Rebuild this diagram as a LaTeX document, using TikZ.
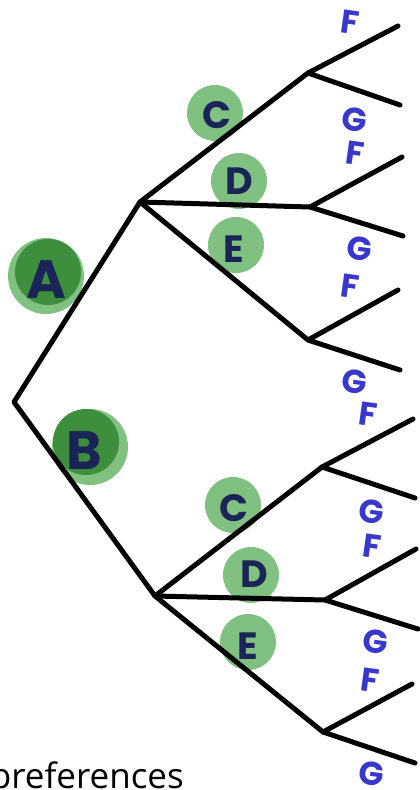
\documentclass[tikz,border=0pt]{standalone}
\usepackage{fontspec}
\setmainfont{Open Sans}
\newfontfamily\hand{Poppins}
\definecolor{branch}{HTML}{000000}
\definecolor{leafgreen}{HTML}{80C080}
\definecolor{deepgreen}{HTML}{3D8F3D}
\definecolor{ink}{HTML}{1B2456}
\definecolor{blueink}{HTML}{3838CC}
\tikzset{
  edge/.style={draw=branch, line width=5pt, line cap=round, line join=round},
  blob/.style={circle, fill=leafgreen, minimum size=56pt, inner sep=0pt},
  bigblob/.style={circle, fill=deepgreen, minimum size=66pt, inner sep=0pt},
  halo/.style={circle, fill=leafgreen, minimum size=76pt, inner sep=0pt},
  letter/.style={text=ink, font=\hand\bfseries\fontsize{38}{38}\selectfont, inner sep=0pt},
  bigletter/.style={text=ink, font=\hand\bfseries\fontsize{54}{54}\selectfont, inner sep=0pt},
  choice/.style={text=blueink, font=\hand\bfseries\fontsize{33}{33}\selectfont,
    inner sep=0pt, text height=24pt, text depth=0pt, rotate=-8},
}
\begin{document}
\begin{tikzpicture}[x=1pt, y=-1pt]
\useasboundingbox (0,0) rectangle (420,790);

% blobs behind the tree
\node[halo] (haloA) at (46,276) {};
\node[bigblob] (blobA) at (48,272) {};
\node[halo] (haloB) at (90,447) {};
\node[bigblob] (blobB) at (86,442) {};
\node[blob] (blobC1) at (215,113) {};
\node[blob] (blobD1) at (239,181) {};
\node[blob] (blobE1) at (236,245) {};
\node[blob] (blobC2) at (233,505) {};
\node[blob] (blobD2) at (251,575) {};
\node[blob] (blobE2) at (248,642) {};

% tree points
\coordinate (root) at (14,402);
\coordinate (pA) at (140,202);
\coordinate (pB) at (155,596);
\coordinate (q1) at (308,73);
\coordinate (q2) at (310,207);
\coordinate (q3) at (308,340);
\coordinate (q4) at (322,467);
\coordinate (q5) at (325,600);
\coordinate (q6) at (323,732);
\coordinate (l1) at (398,26);  \coordinate (l2) at (400,105);
\coordinate (l3) at (402,157); \coordinate (l4) at (403,236);
\coordinate (l5) at (398,290); \coordinate (l6) at (400,370);
\coordinate (l7) at (413,419); \coordinate (l8) at (415,498);
\coordinate (l9) at (416,549); \coordinate (l10) at (418,629);
\coordinate (l11) at (412,684); \coordinate (l12) at (415,763);

% branches
\draw[edge] (pA) -- (root) -- (pB);
\draw[edge] (pA) -- (q1);
\draw[edge] (pA) -- (q2);
\draw[edge] (pA) -- (q3);
\draw[edge] (pB) -- (q4);
\draw[edge] (pB) -- (q5);
\draw[edge] (pB) -- (q6);
\draw[edge] (l1) -- (q1) -- (l2);
\draw[edge] (l3) -- (q2) -- (l4);
\draw[edge] (l5) -- (q3) -- (l6);
\draw[edge] (l7) -- (q4) -- (l8);
\draw[edge] (l9) -- (q5) -- (l10);
\draw[edge] (l11) -- (q6) -- (l12);

% option letters
\node[bigletter] (tA) at (46,280) {A};
\node[bigletter] (tB) at (84,451) {B};
\node[letter] (tC1) at (217,115) {C};
\node[letter] (tD1) at (239,181) {D};
\node[letter] (tE1) at (234,249) {E};
\node[letter] (tC2) at (234,508) {C};
\node[letter] (tD2) at (254,574) {D};
\node[letter] (tE2) at (248,646) {E};

% final choices
\node[choice] (f1) at (350,22) {F};
\node[choice] (g1) at (355,119) {G};
\node[choice] (f2) at (355,153) {F};
\node[choice] (g2) at (360,248) {G};
\node[choice] (f3) at (350,286) {F};
\node[choice] (g3) at (355,381) {G};
\node[choice] (f4) at (368,414) {F};
\node[choice] (g4) at (372,511) {G};
\node[choice] (f5) at (372,546) {F};
\node[choice] (g5) at (376,641) {G};
\node[choice] (f6) at (370,680) {F};
\node[choice] (g6) at (372,773) {G};

% caption
\node[anchor=base east, inner sep=0pt, font=\fontsize{35}{35}\selectfont] (caption) at (184,788) {preferences};
\end{tikzpicture}
\end{document}
